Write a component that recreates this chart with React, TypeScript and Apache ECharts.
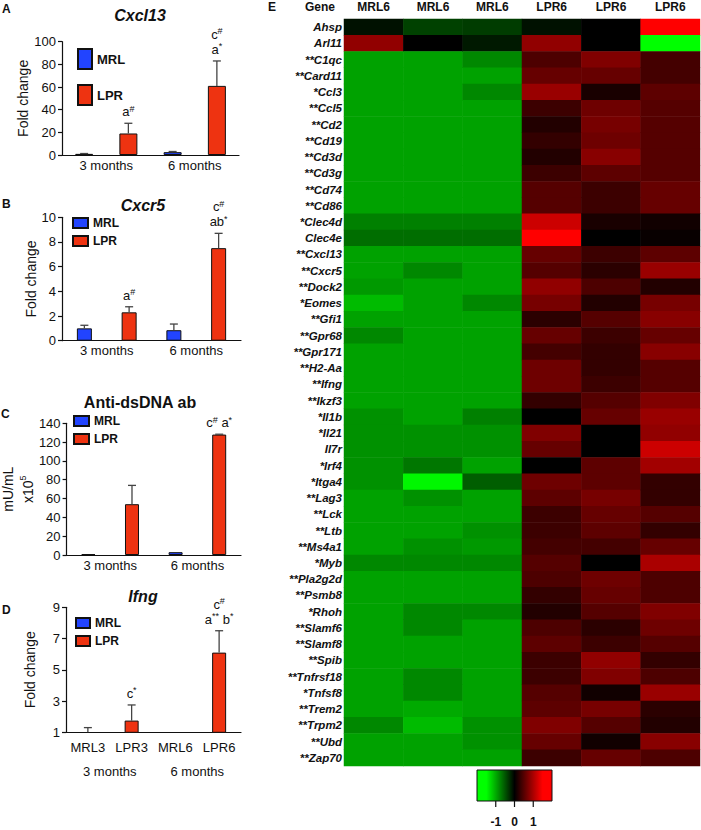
import React, { useEffect, useRef } from 'react';
import * as echarts from 'echarts';

const FONT = '"Liberation Sans", Arial, Helvetica, sans-serif';
const BLUE = '#2244ff';
const RED = '#ee3311';

// ---------- bar panels ----------
const barCategories = ['MRL3', 'LPR3', 'MRL6', 'LPR6'];
const periodLabels = ['3 months', '6 months'];
const strainNames = ['MRL', 'LPR'];

const cxcl13Mean = [1, 19, 2.5, 61];
const cxcl13Err = [0.3, 9, 0.6, 22];
const cxcl13Notes = ['', 'a#', '', 'c#\na*'];

const cxcr5Mean = [1.0, 2.3, 0.85, 7.5];
const cxcr5Err = [0.25, 0.45, 0.5, 1.2];
const cxcr5Notes = ['', 'a#', '', 'c#\nab*'];

const dsdnaMean = [0.8, 54, 3, 128];
const dsdnaErr = [0, 20, 0, 0.4];
const dsdnaNotes = ['', '', '', 'c# a*'];

const ifngMean = [1.0, 1.75, 0.95, 6.1];
const ifngErr = [0.3, 1.0, 0, 1.4];
const ifngNotes = ['', 'c*', '', 'c#\na** b*'];

// ---------- heatmap ----------
const heatColLabels = ['MRL6', 'MRL6', 'MRL6', 'LPR6', 'LPR6', 'LPR6'];
const genes = ['Ahsp', 'Arl11', 'C1qc', 'Card11', 'Ccl3', 'Ccl5', 'Cd2', 'Cd19', 'Cd3d', 'Cd3g', 'Cd74', 'Cd86', 'Clec4d', 'Clec4e', 'Cxcl13', 'Cxcr5', 'Dock2', 'Eomes', 'Gfi1', 'Gpr68', 'Gpr171', 'H2-Aa', 'Ifng', 'Ikzf3', 'Il1b', 'Il21', 'Il7r', 'Irf4', 'Itga4', 'Lag3', 'Lck', 'Ltb', 'Ms4a1', 'Myb', 'Pla2g2d', 'Psmb8', 'Rhoh', 'Slamf6', 'Slamf8', 'Spib', 'Tnfrsf18', 'Tnfsf8', 'Trem2', 'Trpm2', 'Ubd', 'Zap70'];
const geneStars = ['', '', '**', '**', '*', '**', '**', '**', '**', '**', '**', '**', '*', '', '**', '**', '**', '*', '**', '**', '**', '**', '**', '**', '*', '*', '', '*', '*', '**', '**', '**', '**', '*', '**', '**', '*', '**', '**', '**', '**', '*', '**', '**', '**', '**'];

const mrl6a = [-0.1, 0.85, -0.95, -0.95, -0.95, -0.95, -0.95, -0.95, -0.95, -0.95, -0.95, -0.95, -0.75, -0.65, -0.95, -0.95, -0.9, -1.1, -0.95, -0.8, -0.95, -0.95, -0.95, -0.95, -0.85, -0.85, -0.85, -0.85, -0.85, -0.95, -0.95, -0.95, -0.95, -0.8, -0.95, -0.95, -0.95, -0.95, -0.95, -0.95, -0.95, -0.95, -0.95, -0.8, -0.95, -0.95];
const mrl6b = [-0.38, 0.0, -0.95, -0.95, -0.95, -0.95, -0.95, -0.95, -0.95, -0.95, -0.95, -0.95, -0.75, -0.65, -0.95, -0.8, -0.95, -0.95, -0.95, -0.95, -0.95, -0.95, -0.95, -0.95, -0.95, -0.85, -0.85, -0.7, -1.45, -0.85, -0.95, -0.95, -0.85, -0.8, -0.95, -0.95, -0.8, -0.8, -0.95, -0.95, -0.8, -0.8, -1.0, -1.1, -0.95, -0.95];
const mrl6c = [-0.35, -0.15, -0.8, -0.95, -0.8, -0.95, -0.95, -0.95, -0.95, -0.95, -0.95, -0.95, -0.75, -0.65, -0.95, -0.95, -0.95, -0.8, -0.95, -0.95, -0.95, -0.95, -0.95, -0.95, -0.75, -0.85, -0.85, -0.95, -0.55, -0.95, -0.95, -0.85, -0.9, -0.8, -0.95, -0.95, -0.8, -0.95, -0.95, -0.95, -0.95, -0.95, -0.95, -0.85, -0.85, -0.95];
const lpr6a = [-0.1, 0.85, 0.45, 0.6, 0.9, 0.35, 0.2, 0.3, 0.2, 0.35, 0.5, 0.5, 1.2, 1.5, 0.6, 0.5, 0.85, 0.7, 0.25, 0.6, 0.4, 0.65, 0.65, 0.3, 0.0, 0.75, 0.6, 0.0, 0.65, 0.55, 0.35, 0.35, 0.4, 0.5, 0.45, 0.3, 0.2, 0.45, 0.55, 0.35, 0.35, 0.5, 0.55, 0.75, 0.6, 0.35];
const lpr6b = [0.0, 0.0, 0.75, 0.6, 0.15, 0.65, 0.7, 0.65, 0.8, 0.55, 0.35, 0.35, 0.15, 0.0, 0.35, 0.25, 0.45, 0.2, 0.5, 0.35, 0.3, 0.3, 0.35, 0.5, 0.6, 0.0, 0.0, 0.55, 0.55, 0.7, 0.6, 0.55, 0.4, 0.0, 0.65, 0.6, 0.5, 0.25, 0.35, 0.85, 0.75, 0.1, 0.7, 0.5, 0.1, 0.6];
const lpr6c = [1.6, -1.6, 0.4, 0.4, 0.55, 0.5, 0.5, 0.5, 0.5, 0.5, 0.6, 0.6, 0.1, 0.05, 0.55, 0.9, 0.2, 0.7, 0.8, 0.6, 0.8, 0.5, 0.5, 0.75, 0.9, 0.85, 1.2, 0.95, 0.3, 0.3, 0.5, 0.3, 0.6, 1.0, 0.45, 0.45, 0.75, 0.65, 0.5, 0.3, 0.45, 0.9, 0.25, 0.2, 0.8, 0.45];
const heatColumns = [mrl6a, mrl6b, mrl6c, lpr6a, lpr6b, lpr6c];

const heatMin = -2;
const heatMax = 2;
const heatTicks = [-1, 0, 1];
const heatColors = ['#00ff00', '#00ff00', '#00aa00', '#005500', '#000000', '#550000', '#aa0000', '#ff0000', '#ff0000'];

// ---------- helpers ----------
const NOTE_RICH = {
  n: { fontSize: 13, fontFamily: FONT, lineHeight: 15, fill: '#111' },
  s: { fontSize: 9, fontFamily: FONT, lineHeight: 9, verticalAlign: 'top', fill: '#111' },
};

function richNote(note: string) {
  return note
    .split('\n')
    .map((line) => {
      let out = '';
      let buf = '';
      let kind = '';
      for (const ch of line) {
        const k = ch === '#' || ch === '*' ? 's' : 'n';
        if (k !== kind && buf) {
          out += `{${kind}|${buf}}`;
          buf = '';
        }
        kind = k;
        buf += ch;
      }
      if (buf) out += `{${kind}|${buf}}`;
      return out;
    })
    .join('\n');
}

const makeErr = (notes: string[]) => (params: any, api: any) => {
  const i = api.value(0);
  const m = api.value(1);
  const e = api.value(2);
  const base = api.coord([i, m]);
  const top = api.coord([i, m + e]);
  const stroke = '#444';
  const children: any[] = [];
  if (e > 0) {
    children.push({ type: 'line', shape: { x1: base[0], y1: base[1], x2: top[0], y2: top[1] }, style: { stroke, lineWidth: 1.3 } });
    children.push({ type: 'line', shape: { x1: top[0] - 4, y1: top[1], x2: top[0] + 4, y2: top[1] }, style: { stroke, lineWidth: 1.3 } });
  }
  const note = notes[params.dataIndex];
  if (note) {
    children.push({
      type: 'text',
      x: top[0],
      y: top[1] - 4,
      style: { text: richNote(note), align: 'center', verticalAlign: 'bottom', fill: '#111', font: `13px ${FONT}`, rich: NOTE_RICH },
    });
  }
  return { type: 'group', children };
};

function panelSeries(gi: number, xMain: number, mean: number[], err: number[], notes: string[], barWidth: number) {
  const border = { borderColor: '#111', borderWidth: 1 };
  return [
    { type: 'bar', name: strainNames[0], xAxisIndex: xMain, yAxisIndex: gi, barWidth, barGap: '-100%', data: mean.map((v, i) => (i % 2 === 0 ? v : '-')), itemStyle: { color: BLUE, ...border }, z: 2 },
    { type: 'bar', name: strainNames[1], xAxisIndex: xMain, yAxisIndex: gi, barWidth, barGap: '-100%', data: mean.map((v, i) => (i % 2 === 1 ? v : '-')), itemStyle: { color: RED, ...border }, z: 2 },
    { type: 'custom', xAxisIndex: xMain, yAxisIndex: gi, data: mean.map((v, i) => [i, v, err[i]]), renderItem: makeErr(notes), z: 3, silent: true },
  ];
}

const axisLineStyle = { lineStyle: { color: '#111', width: 1.2 } };

function valueAxis(gi: number, min: number, max: number, interval: number, name: string, nameGap: number, nameTextStyle?: any) {
  return {
    type: 'value',
    gridIndex: gi,
    min,
    max,
    interval,
    name,
    nameLocation: 'middle',
    nameRotate: 90,
    nameGap,
    nameTextStyle: nameTextStyle || { fontSize: 14, fontFamily: FONT, color: '#111' },
    axisLine: { show: true, ...axisLineStyle },
    axisTick: { show: true, length: 4, ...axisLineStyle },
    splitLine: { show: false },
    axisLabel: { fontSize: 13, fontFamily: FONT, color: '#111', margin: 6 },
  };
}

function mainXAxis(gi: number, showLabels: boolean) {
  return {
    type: 'category',
    gridIndex: gi,
    data: barCategories,
    axisLine: { show: true, onZero: false, ...axisLineStyle },
    axisTick: { show: false },
    axisLabel: { show: showLabels, interval: 0, fontSize: 13, fontFamily: FONT, color: '#111', margin: 9 },
  };
}

function periodXAxis(gi: number, offset: number, margin: number) {
  return {
    type: 'category',
    gridIndex: gi,
    position: 'bottom',
    offset,
    data: periodLabels,
    axisLine: { show: false },
    axisTick: { show: false },
    axisLabel: { interval: 0, fontSize: 13, fontFamily: FONT, color: '#111', margin },
  };
}

function legend(left: number, top: number, w: number, h: number, gap: number, fontSize: number) {
  return {
    data: strainNames,
    orient: 'vertical',
    left,
    top,
    padding: 0,
    itemWidth: w,
    itemHeight: h,
    itemGap: gap,
    icon: 'rect',
    selectedMode: false,
    textStyle: { fontSize, fontWeight: 'bold', fontFamily: FONT, color: '#111' },
  };
}

function txt(x: number, y: number, text: string, font: string, align = 'center') {
  return { type: 'text', x, y, silent: true, style: { text, font, fill: '#111', align, verticalAlign: 'middle' } };
}

export default function App() {
  const ref = useRef<HTMLDivElement>(null);

  useEffect(() => {
    if (!ref.current) return;
    const chart = echarts.init(ref.current, null, { renderer: 'svg' });

    const heatData: number[][] = [];
    heatColumns.forEach((col, ci) => col.forEach((v, ri) => heatData.push([ci, ri, v])));

    // heat legend geometry
    const lgX = 477, lgY = 770, lgW = 75, lgH = 31;
    const toLgX = (v: number) => lgX + ((v - heatMin) / (heatMax - heatMin)) * lgW;
    const gradStops = heatColors.map((c, i) => ({ offset: i / (heatColors.length - 1), color: c }));

    const graphic: any[] = [
      txt(2, 9, 'A', `bold 12px ${FONT}`, 'left'),
      txt(2, 204, 'B', `bold 12px ${FONT}`, 'left'),
      txt(1, 414, 'C', `bold 12px ${FONT}`, 'left'),
      txt(2, 610, 'D', `bold 12px ${FONT}`, 'left'),
      txt(268, 7, 'E', `bold 12px ${FONT}`, 'left'),
      txt(140, 15, 'Cxcl13', `italic bold 16px ${FONT}`),
      txt(143, 205, 'Cxcr5', `italic bold 16px ${FONT}`),
      txt(140, 402, 'Anti-dsDNA ab', `bold 16px ${FONT}`),
      txt(143, 596, 'Ifng', `italic bold 16px ${FONT}`),
      txt(320, 7, 'Gene', `bold 12px ${FONT}`),
      {
        type: 'rect',
        silent: true,
        shape: { x: lgX, y: lgY, width: lgW, height: lgH },
        style: { fill: { type: 'linear', x: 0, y: 0, x2: 1, y2: 0, colorStops: gradStops }, stroke: '#111', lineWidth: 1 },
      },
      ...heatTicks.map((t) => ({ type: 'line', silent: true, shape: { x1: toLgX(t), y1: lgY + lgH, x2: toLgX(t), y2: lgY + lgH + 6 }, style: { stroke: '#111', lineWidth: 1.2 } })),
      ...heatTicks.map((t) => txt(toLgX(t), lgY + lgH + 21, String(t), `bold 12px ${FONT}`)),
    ];

    const cNameStyle = {
      fontSize: 14,
      fontFamily: FONT,
      color: '#111',
      rich: {
        a: { fontSize: 14, fontFamily: FONT, color: '#111', lineHeight: 20 },
        s: { fontSize: 9, fontFamily: FONT, color: '#111', lineHeight: 9, verticalAlign: 'top' },
      },
    };

    const option: any = {
      animation: false,
      backgroundColor: '#ffffff',
      textStyle: { fontFamily: FONT },
      graphic,
      legend: [
        legend(77, 48, 14, 20, 14, 13),
        legend(72, 217, 15, 10, 6, 12),
        legend(73, 415, 15, 10, 6, 12),
        legend(75, 617, 14, 10, 6, 12),
      ],
      grid: [
        { left: 62, top: 41.7, width: 177, height: 113.3 },
        { left: 62, top: 217.3, width: 179, height: 123.4 },
        { left: 66, top: 423.3, width: 175, height: 131.7 },
        { left: 66, top: 607.3, width: 175, height: 125 },
        { left: 344, top: 19, width: 356, height: 747 },
      ],
      xAxis: [
        mainXAxis(0, false),
        periodXAxis(0, 0, 4),
        mainXAxis(1, false),
        periodXAxis(1, 0, 3),
        mainXAxis(2, false),
        periodXAxis(2, 0, 4),
        mainXAxis(3, true),
        periodXAxis(3, 30, 3),
        {
          type: 'category',
          gridIndex: 4,
          position: 'top',
          data: heatColLabels.map((_, i) => String(i)),
          axisLine: { show: false },
          axisTick: { show: false },
          axisLabel: { interval: 0, formatter: (_v: string, i: number) => heatColLabels[i], fontSize: 12, fontWeight: 'bold', fontFamily: FONT, color: '#111', margin: 6 },
        },
      ],
      yAxis: [
        valueAxis(0, 0, 100, 20, 'Fold change', 30),
        valueAxis(1, 0, 10, 2, 'Fold change', 24),
        valueAxis(2, 0, 140, 20, '{a|mU/mL}\n{a|x10}{s|5}', 17, cNameStyle),
        valueAxis(3, 1, 9, 2, 'Fold change', 29),
        {
          type: 'category',
          gridIndex: 4,
          data: genes,
          inverse: true,
          axisLine: { show: false },
          axisTick: { show: false },
          axisLabel: {
            interval: 0,
            formatter: (v: string, i: number) => geneStars[i] + v,
            fontSize: 11.5,
            fontStyle: 'italic',
            fontWeight: 'bold',
            fontFamily: FONT,
            color: '#111',
            margin: 2,
          },
        },
      ],
      visualMap: {
        show: false,
        type: 'continuous',
        min: heatMin,
        max: heatMax,
        dimension: 2,
        seriesIndex: 12,
        inRange: { color: heatColors },
      },
      series: [
        ...panelSeries(0, 0, cxcl13Mean, cxcl13Err, cxcl13Notes, 18),
        ...panelSeries(1, 2, cxcr5Mean, cxcr5Err, cxcr5Notes, 15),
        ...panelSeries(2, 4, dsdnaMean, dsdnaErr, dsdnaNotes, 14),
        ...panelSeries(3, 6, ifngMean, ifngErr, ifngNotes, 14),
        {
          type: 'heatmap',
          xAxisIndex: 8,
          yAxisIndex: 4,
          data: heatData,
          silent: true,
          emphasis: { disabled: true },
          itemStyle: { borderWidth: 0 },
        },
      ],
    };

    chart.setOption(option);
    return () => chart.dispose();
  }, []);

  return <div ref={ref} style={{ position: 'absolute', left: 0, top: 0, width: 701, height: 830, background: '#fff' }} />;
}
